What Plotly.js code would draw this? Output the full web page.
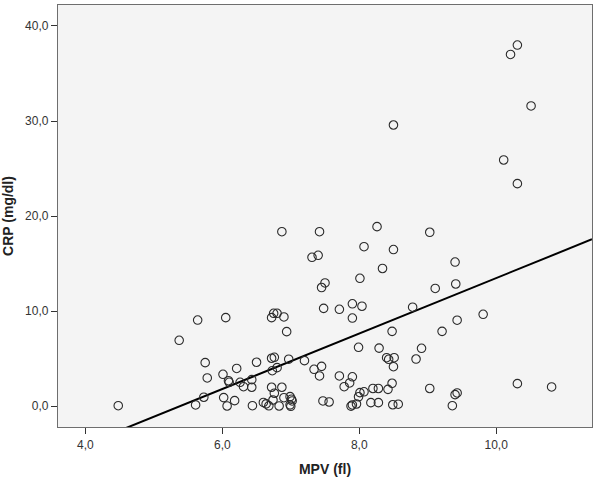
<!DOCTYPE html>
<html>
<head>
<meta charset="utf-8">
<script src="https://cdn.plot.ly/plotly-3.0.1.min.js"></script>
<style>html,body{margin:0;padding:0;background:#fff;}#chart{width:600px;height:479px;}</style>
</head>
<body>
<div id="chart"></div>
<script>
// MPV (fl) values
const mpv = [
  4.48, 5.37, 5.64, 6.05, 5.61, 5.73, 5.75, 5.78, 6.01, 6.02,
  6.07, 6.09, 6.10, 6.18, 6.21, 6.26, 6.31, 6.43, 6.43, 6.44,
  6.50, 6.60, 6.64, 6.68, 6.72, 6.75, 6.80, 6.90, 6.94, 6.72,
  6.76, 6.80, 6.73, 6.72, 6.87, 6.76, 6.74, 6.90, 6.83, 6.97,
  6.99, 7.01, 7.02, 6.99, 7.00, 7.20, 7.34, 7.45, 7.42, 7.71,
  7.90, 7.86, 7.78, 8.20, 8.28, 8.42, 8.48, 9.03, 8.01, 8.07,
  7.99, 7.47, 7.56, 7.90, 7.88, 7.96, 8.17, 8.28, 8.49, 8.57,
  9.36, 9.40, 9.43, 10.31, 10.81, 7.99, 8.29, 8.91, 8.83, 8.40,
  8.43, 8.51, 8.50, 8.48, 9.21, 9.43, 9.81, 7.48, 7.71, 7.90,
  8.04, 7.90, 8.78, 7.45, 7.50, 8.01, 9.11, 9.41, 8.34, 9.40,
  7.31, 7.40, 8.07, 8.50, 6.87, 7.42, 8.26, 9.03, 8.50, 10.11,
  10.31, 10.51, 10.21, 10.31
];
// CRP (mg/dl) values
const crp = [
  0.06, 6.94, 9.07, 9.32, 0.14, 0.95, 4.59, 2.98, 3.36, 0.91,
  0.03, 2.69, 2.52, 0.59, 3.98, 2.52, 2.06, 2.80, 2.00, 0.06,
  4.63, 0.40, 0.25, 0.05, 9.32, 9.78, 9.78, 9.39, 7.85, 5.05,
  5.15, 4.06, 3.74, 2.00, 2.00, 1.37, 0.66, 0.90, 0.03, 4.95,
  1.01, 0.74, 0.56, 0.15, 0.00, 4.80, 3.89, 4.20, 3.19, 3.19,
  3.10, 2.45, 2.06, 1.87, 1.87, 1.78, 2.42, 1.87, 1.43, 1.52,
  1.00, 0.56, 0.45, 0.14, 0.02, 0.24, 0.38, 0.38, 0.16, 0.22,
  0.06, 1.22, 1.40, 2.38, 2.03, 6.20, 6.12, 6.10, 4.97, 5.11,
  4.94, 5.11, 4.16, 7.88, 7.88, 9.05, 9.67, 10.30, 10.20, 10.78,
  10.52, 9.28, 10.42, 12.49, 12.97, 13.46, 12.39, 12.86, 14.49, 15.17,
  15.67, 15.88, 16.78, 16.48, 18.36, 18.36, 18.89, 18.30, 29.58, 25.90,
  23.41, 31.58, 37.00, 37.99
];
// Fit line: CRP = slope * MPV + intercept
const fitSlope = 2.916;
const fitIntercept = -15.68;
const xRange = [3.6, 11.4];
const yRange = [-2.18, 42.2];
const xTicks = [4, 6, 8, 10];
const yTicks = [0, 10, 20, 30, 40];

const fitX = xRange.slice();
const fitY = fitX.map(v => fitSlope * v + fitIntercept);

const traces = [
  {
    x: fitX, y: fitY, type: 'scatter', mode: 'lines',
    line: {color: '#000000', width: 2}, hoverinfo: 'skip'
  },
  {
    x: mpv, y: crp, type: 'scatter', mode: 'markers',
    marker: {symbol: 'circle-open', size: 8.5, color: '#2a2a2a', line: {width: 1.1, color: '#2a2a2a'}}
  }
];

const axisCommon = {
  showgrid: false, zeroline: false, showline: true, mirror: true,
  linecolor: '#6e6e6e', linewidth: 1.2, ticks: 'outside', ticklen: 6,
  tickcolor: '#333333', tickwidth: 1,
  tickfont: {family: 'Liberation Sans, Arial, sans-serif', size: 12, color: '#333333'},
  tickformat: '.1f'
};

const layout = {
  width: 600, height: 479,
  margin: {l: 58, r: 8, t: 5, b: 52},
  paper_bgcolor: '#ffffff', plot_bgcolor: '#f4f4f4',
  showlegend: false,
  separators: ',.',
  xaxis: Object.assign({}, axisCommon, {
    range: xRange, tickvals: xTicks,
    title: {text: '<b>MPV (fl)</b>', standoff: 13,
      font: {family: 'Liberation Sans, Arial, sans-serif', size: 14, color: '#222222'}}
  }),
  yaxis: Object.assign({}, axisCommon, {
    range: yRange, tickvals: yTicks,
    title: {text: '<b>CRP (mg/dl)</b>', standoff: 8,
      font: {family: 'Liberation Sans, Arial, sans-serif', size: 14, color: '#222222'}}
  })
};

Plotly.newPlot('chart', traces, layout, {displayModeBar: false, staticPlot: true});
</script>
</body>
</html>
